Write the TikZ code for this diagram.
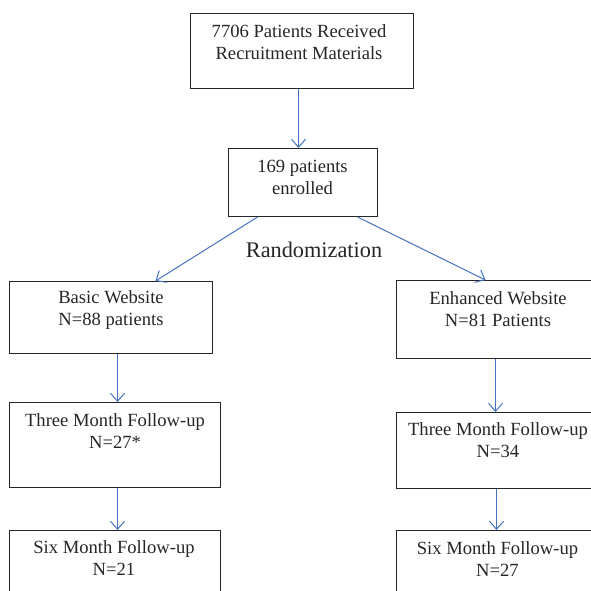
\documentclass[tikz,border=0pt]{standalone}
\usepackage{fontspec}
\setmainfont{Liberation Serif}
\usetikzlibrary{arrows.meta}
\definecolor{arrblue}{RGB}{68,114,196}
\definecolor{ink}{RGB}{38,38,38}
\tikzset{
  box/.style={draw=ink, line width=1pt, rectangle, inner sep=0pt, anchor=north west},
  txt/.style={text=ink, font=\fontsize{18.6}{22}\selectfont, align=center, inner sep=0pt},
  arr/.style={draw=arrblue, line width=1pt, -{Straight Barb[length=8pt,width=14pt,line width=1pt]}}
}
\begin{document}
\begin{tikzpicture}[x=1pt,y=-1pt]
\useasboundingbox (0,0) rectangle (591,590);
\clip (0,0) rectangle (591,590);
% boxes
\node[box, minimum width=223pt, minimum height=75pt] (top) at (190,13) {};
\node[box, minimum width=149pt, minimum height=68pt] (enr) at (228,148) {};
\node[box, minimum width=203pt, minimum height=72pt] (basic) at (9,281) {};
\node[box, minimum width=211pt, minimum height=85pt] (lthree) at (9,402) {};
\node[box, minimum width=211pt, minimum height=80pt] (lsix) at (9,530) {};
\node[box, minimum width=204pt, minimum height=78pt] (enh) at (396,280) {};
\node[box, minimum width=204pt, minimum height=76pt] (rthree) at (396,412) {};
\node[box, minimum width=204pt, minimum height=80pt] (rsix) at (396,530) {};
% texts
\node[txt] (ttop) at (299,42.5) {7706 Patients Received\\Recruitment Materials};
\node[txt] (tenr) at (302.5,177.5) {169 patients\\enrolled};
\node[txt, font=\fontsize{22.3}{26}\selectfont] (rand) at (314,250) {Randomization};
\node[txt] (tbasic) at (111,310.5) {Basic Website\\N=88 patients};
\node[txt] (tlthree) at (115,431) {Three Month Follow-up\\N=27*};
\node[txt] (tlsix) at (114,558.5) {Six Month Follow-up\\N=21};
\node[txt] (tenh) at (498,309.5) {Enhanced Website\\N=81 Patients};
\node[txt] (trthree) at (498,440.5) {Three Month Follow-up\\N=34};
\node[txt] (trsix) at (497.5,559) {Six Month Follow-up\\N=27};
% arrows
\draw[arr] ([xshift=-3.5pt]top.south) -- ([xshift=-4.5pt]enr.north);
\draw[arr] ([xshift=-45.5pt]enr.south) -- ([xshift=44.5pt]basic.north);
\draw[arr] ([xshift=54.5pt]enr.south) -- ([xshift=-13pt]enh.north);
\draw[arr] ([xshift=6.5pt]basic.south) -- ([xshift=2.5pt]lthree.north);
\draw[arr] ([xshift=2.5pt]lthree.south) -- ([xshift=2.5pt]lsix.north);
\draw[arr] ([xshift=-3pt]enh.south) -- ([xshift=-3pt]rthree.north);
\draw[arr] ([xshift=-2pt]rthree.south) -- ([xshift=-2pt]rsix.north);
\end{tikzpicture}
\end{document}
